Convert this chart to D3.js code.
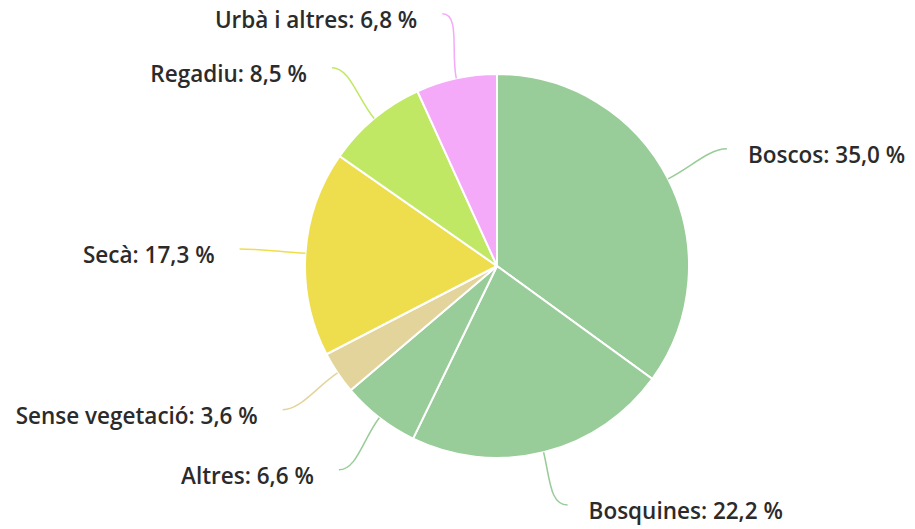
<!DOCTYPE html>
<html>
<head>
<meta charset="utf-8">
<script src="https://cdn.jsdelivr.net/npm/d3@7"></script>
<style>
  body { margin: 0; background: #fff; }
  text { font-family: "Open Sans", sans-serif; font-weight: 600; font-size: 22.5px; fill: #2b2b2b; }
</style>
</head>
<body>
<div id="chart-area"></div>
<script>
var categories = ['Boscos', 'Bosquines', 'Altres', 'Sense vegetació', 'Secà', 'Regadiu', 'Urbà i altres']
var values = [35.0, 22.2, 6.6, 3.6, 17.3, 8.5, 6.8]
var colors = ['#98cc98', '#98cc98', '#98cc98', '#e3d49c', '#eede4e', '#c1e865', '#f4a9f9']

var width = 915, height = 529
var cx = 497, cy = 266, radius = 192
var lineR = 258
var maxY = 239 // keep the bottom label inside the picture

var svg = d3.select('#chart-area')
  .append('svg')
  .attr('width', width)
  .attr('height', height)

var g = svg.append('g')
  .attr('transform', 'translate(' + cx + ', ' + cy + ')')

var data = categories.map(function(c, i) {
  return { name: c, value: values[i], color: colors[i] }
})

var pie = d3.pie()
  .sort(null)
  .value(function(d) { return d.value })

var arcs = pie(data)

var arc = d3.arc()
  .innerRadius(0)
  .outerRadius(radius)

g.selectAll('path.slice')
  .data(arcs)
  .enter()
  .append('path')
  .attr('class', 'slice')
  .attr('d', arc)
  .attr('fill', function(d) { return d.data.color })
  .attr('stroke', '#fff')
  .attr('stroke-width', 2)

function pt(a, r) {
  return [Math.sin(a) * r, -Math.cos(a) * r]
}

// connectors + labels
arcs.forEach(function(d) {
  var mid = (d.startAngle + d.endAngle) / 2
  var right = Math.sin(mid) > 0
  var p0 = pt(mid, radius)
  var pe = pt(mid, lineR)
  if (pe[1] > maxY) { pe[1] = maxY; pe[0] += 8 }
  var c2 = pt(mid, 218)
  var c1 = [pe[0] + (right ? -18 : 18), pe[1]]
  var path = d3.path()
  path.moveTo(pe[0], pe[1])
  path.bezierCurveTo(c1[0], c1[1], c2[0], c2[1], p0[0], p0[1])
  g.append('path')
    .attr('d', path.toString())
    .attr('fill', 'none')
    .attr('stroke', d.data.color)
    .attr('stroke-width', 1.5)

  g.append('text')
    .attr('x', pe[0] + (right ? 21 : -25))
    .attr('y', pe[1] + 6)
    .attr('dy', '0.35em')
    .attr('text-anchor', right ? 'start' : 'end')
    .text(d.data.name + ': ' + d3.format('.1f')(d.data.value).replace('.', ',') + ' %')
})
</script>
</body>
</html>
